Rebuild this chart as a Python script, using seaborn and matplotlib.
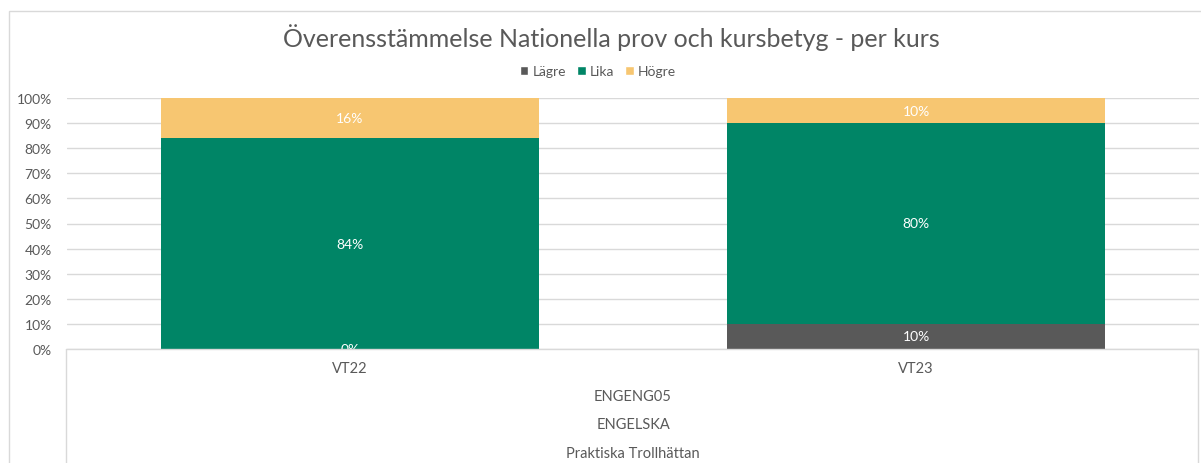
"""Överensstämmelse NP och kursbetyg - staplad stapel per termin."""

import matplotlib
matplotlib.use("Agg")
import matplotlib.pyplot as plt
from matplotlib.lines import Line2D
from matplotlib.patches import Patch, Rectangle
import numpy as np
import pandas as pd
import seaborn as sns

TERMINER = ["VT22", "VT23"]
LAGRE = [0, 10]
LIKA = [84, 80]
HOGRE = [16, 10]
NIVAER = ["ENGENG05", "ENGELSKA", "Praktiska Trollhättan"]

SERIER = ["Lägre", "Lika", "Högre"]
FARGER = {"Lägre": "#595959", "Lika": "#008566", "Högre": "#F7C671"}
GRID = "#D9D9D9"
TEXT = "#595959"

W, H = 1201, 464


def main():
    sns.set_theme(style="white")
    plt.rcParams["font.family"] = ["Lato", "DejaVu Sans"]

    df = pd.DataFrame({"termin": TERMINER, "Lägre": LAGRE, "Lika": LIKA, "Högre": HOGRE})
    df["c_lagre"] = df["Lägre"]
    df["c_lika"] = df["c_lagre"] + df["Lika"]
    df["c_hogre"] = df["c_lika"] + df["Högre"]

    fig = plt.figure(figsize=(W / 100, H / 100), dpi=100)
    ax = fig.add_axes([67 / W, 1 - 350 / H, (1199 - 67) / W, (350 - 99) / H])

    # staplat: rita kumulativa summor uppifrån och ned
    for col, serie in [("c_hogre", "Högre"), ("c_lika", "Lika"), ("c_lagre", "Lägre")]:
        sns.barplot(data=df, x="termin", y=col, color=FARGER[serie], width=0.668,
                    saturation=1, linewidth=0, ax=ax, zorder=3)

    # datalabels
    for i, row in df.iterrows():
        base = 0
        for serie in SERIER:
            v = row[serie]
            ax.text(i, base + v / 2, f"{v}%", ha="center", va="center",
                    color="white", fontsize=10, zorder=5)
            base += v

    ax.set_ylim(0, 100)
    ax.set_xlim(-0.5, 1.5)
    ax.set_yticks(np.arange(0, 101, 10))
    ax.set_yticklabels([f"{t}%" for t in range(0, 101, 10)])
    ax.set_xlabel("")
    ax.set_ylabel("")
    ax.grid(axis="y", color=GRID, linewidth=1, zorder=0)
    ax.set_axisbelow(True)
    for s in ax.spines.values():
        s.set_visible(False)
    ax.tick_params(axis="both", length=0, colors=TEXT, labelsize=10)
    ax.tick_params(axis="y", pad=11)
    ax.tick_params(axis="x", pad=9, labelsize=10.5)

    # kategoriaxelns ramar
    def fx(px):
        return px / W

    def fy(py):
        return 1 - py / H

    for x in (66, 1198):
        fig.add_artist(Line2D([fx(x), fx(x)], [fy(350), fy(470)], color=GRID, lw=1))
    fig.add_artist(Line2D([fx(66), fx(1198)], [fy(350), fy(350)], color=GRID, lw=1))

    for txt, y in zip(NIVAER, (397, 425, 454)):
        fig.text(fx(633), fy(y), txt, ha="center", va="center", fontsize=10.5, color=TEXT)

    # diagramram
    fig.add_artist(Rectangle((fx(9), -0.05), 1.1, fy(12) + 0.05, transform=fig.transFigure,
                             fill=False, edgecolor=GRID, lw=1))

    fig.text(fx(611), fy(38), "Överensstämmelse Nationella prov och kursbetyg - per kurs",
             ha="center", va="center", fontsize=18, color=TEXT)

    handles = [Patch(facecolor=FARGER[s], label=s) for s in SERIER]
    fig.legend(handles=handles, loc="center", bbox_to_anchor=(fx(598), fy(72)), ncol=3,
               frameon=False, fontsize=10, handlelength=0.6, handleheight=0.6,
               handletextpad=0.3, columnspacing=0.8, labelcolor=TEXT)

    fig.savefig("out.png", dpi=100)
    plt.close(fig)


if __name__ == "__main__":
    main()
